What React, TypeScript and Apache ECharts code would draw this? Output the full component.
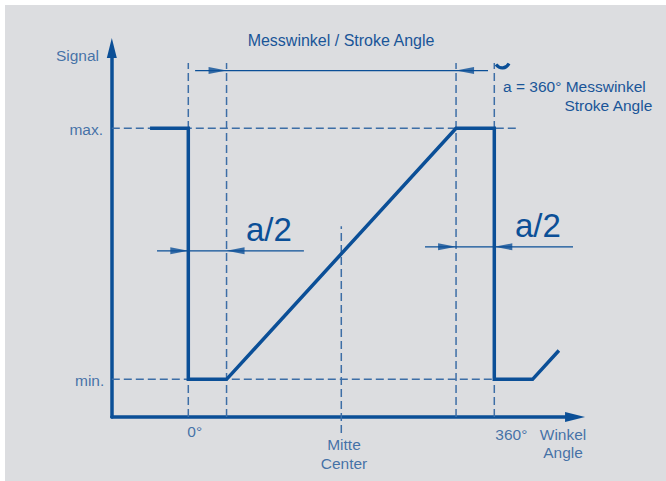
import React, { useEffect, useRef } from 'react';
import * as echarts from 'echarts';

// ---- data (angles in degrees, signal in % of range) ----
const signalAngles = [-45, 0, 0, 45, 315, 360, 360, 405, 436];
const signalLevels = [100, 100, 0, 0, 100, 100, 0, 0, 11.5];

const levelValues = [100, 0];
const levelLabels = ['max.', 'min.'];
const levelGuideEnds = [390, 360];

const angleGuideValues = [0, 45, 315, 360];
const angleTickValues = [0, 360];
const angleTickLabels = ['0°', '360°'];
const centerAngle = 180;
const centerLabel = 'Mitte\nCenter';

const strokeSpan = [45, 315];
const halfLeft = [0, 45];
const halfRight = [315, 360];

const X_MIN = -90;
const X_MAX = 455;
const Y_MIN = -15;
const Y_MAX = 132;

const MAIN = '#0b4f97';
const GUIDE = '#3d6ea6';
const TEXT = '#1a5598';
const BG = '#dcdde0';
const FONT = '"Liberation Sans", Arial, sans-serif';

export default function App() {
  const ref = useRef<HTMLDivElement>(null);
  useEffect(() => {
    if (!ref.current) return;
    const chart = echarts.init(ref.current, null, { renderer: 'svg' });

    const dashed = (data: number[][], clip = true) => ({
      type: 'line',
      data,
      symbol: 'none',
      silent: true,
      clip,
      z: 1,
      lineStyle: { color: GUIDE, width: 1.5, type: [8, 4] },
    });
    const dim = (data: number[][]) => ({
      type: 'line',
      data,
      symbol: 'none',
      silent: true,
      clip: false,
      z: 3,
      lineStyle: { color: MAIN, width: 1.2 },
    });

    const series: any[] = [];
    levelValues.forEach((v, i) => series.push(dashed([[X_MIN, v], [levelGuideEnds[i], v]])));
    angleGuideValues.forEach((a) => series.push(dashed([[a, Y_MIN], [a, 126]])));
    series.push(dashed([[centerAngle, -21.4], [centerAngle, 61]], false));

    // dimension lines
    series.push(dim([[8, 123], [352.6, 123]]));
    series.push(dim([[-36.8, 51.2], [136, 51.2]]));
    series.push(dim([[278.5, 52.8], [452.6, 52.8]]));

    // arrow heads
    series.push({
      type: 'scatter',
      silent: true,
      clip: false,
      z: 4,
      symbol: 'path://M0,0L18,3.5L0,7Z',
      symbolSize: [18, 7],
      symbolOffset: [-9, 0],
      itemStyle: { color: MAIN },
      data: [[strokeSpan[0], 123], [halfLeft[0], 51.2], [halfRight[0], 52.8]],
    });
    series.push({
      type: 'scatter',
      silent: true,
      clip: false,
      z: 4,
      symbol: 'path://M18,0L0,3.5L18,7Z',
      symbolSize: [18, 7],
      symbolOffset: [9, 0],
      itemStyle: { color: MAIN },
      data: [[strokeSpan[1], 123], [halfLeft[1], 51.2], [halfRight[1], 52.8]],
    });

    // signal
    series.push({
      type: 'line',
      data: signalAngles.map((a, i) => [a, signalLevels[i]]),
      symbol: 'none',
      silent: true,
      z: 5,
      lineStyle: { color: MAIN, width: 3.5, cap: 'butt', join: 'miter' },
    });

    // labels
    const lbl = (value: number[], text: string, align: string, pos: number[], extra: any = {}) => ({
      value,
      label: {
        show: true,
        formatter: text,
        align,
        verticalAlign: 'middle',
        position: pos,
        color: TEXT,
        fontSize: 15.5,
        fontFamily: FONT,
        lineHeight: 19,
        ...extra,
      },
    });
    const labelData = [
      lbl([X_MIN, levelValues[0]], levelLabels[0], 'right', [-7.8, 1.7]),
      lbl([X_MIN, levelValues[1]], levelLabels[1], 'right', [-6.5, 2.5]),
      lbl([angleTickValues[0], Y_MIN], angleTickLabels[0], 'left', [0, 15.5]),
      lbl([angleTickValues[1], Y_MIN], angleTickLabels[1], 'left', [2, 19]),
      lbl([centerAngle, Y_MIN], centerLabel, 'center', [3.7, 38]),
      lbl([X_MAX, Y_MIN], 'Winkel\nAngle', 'center', [-11, 28], { lineHeight: 18 }),
      lbl([X_MIN, Y_MAX], 'Signal', 'right', [-11.8, 8.3]),
    ];
    series.push({
      type: 'scatter',
      silent: true,
      clip: false,
      z: 6,
      symbolSize: 2,
      itemStyle: { color: 'rgba(0,0,0,0)' },
      data: labelData,
    });

    chart.setOption({
      animation: false,
      backgroundColor: 'transparent',
      grid: { left: 111.8, top: 48, width: 463.25, height: 368.97, containLabel: false },
      xAxis: {
        type: 'value',
        min: X_MIN,
        max: X_MAX,
        axisLine: {
          show: true,
          onZero: false,
          symbol: ['none', 'triangle'],
          symbolSize: [10, 20],
          lineStyle: { color: MAIN, width: 3.5 },
        },
        axisTick: { show: false },
        axisLabel: { show: false },
        splitLine: { show: false },
      },
      yAxis: {
        type: 'value',
        min: Y_MIN,
        max: Y_MAX,
        axisLine: {
          show: true,
          onZero: false,
          symbol: ['none', 'triangle'],
          symbolSize: [10, 20],
          lineStyle: { color: MAIN, width: 3.5 },
        },
        axisTick: { show: false },
        axisLabel: { show: false },
        splitLine: { show: false },
      },
      graphic: [
        { type: 'rect', z: -10, silent: true, shape: { x: 5, y: 5, width: 661, height: 476 }, style: { fill: BG } },
        {
          type: 'text', silent: true,
          style: { text: 'Messwinkel / Stroke Angle', x: 341, y: 40.4, align: 'center', verticalAlign: 'middle', fill: TEXT, font: `16px ${FONT}` },
        },
        {
          type: 'text', silent: true,
          style: { text: 'a = 360° Messwinkel', x: 503, y: 86.3, align: 'left', verticalAlign: 'middle', fill: TEXT, font: `15.5px ${FONT}` },
        },
        {
          type: 'text', silent: true,
          style: { text: 'Stroke Angle', x: 652.3, y: 105.1, align: 'right', verticalAlign: 'middle', fill: TEXT, font: `15.5px ${FONT}` },
        },
        {
          type: 'text', silent: true,
          style: { text: 'a/2', x: 246, y: 229.2, align: 'left', verticalAlign: 'middle', fill: MAIN, font: `33px ${FONT}` },
        },
        {
          type: 'text', silent: true,
          style: { text: 'a/2', x: 515, y: 225.2, align: 'left', verticalAlign: 'middle', fill: MAIN, font: `33px ${FONT}` },
        },
        {
          type: 'bezierCurve', silent: true,
          shape: { x1: 496, y1: 64.5, cpx1: 500, cpy1: 69.5, cpx2: 506, cpy2: 69, x2: 509, y2: 63.5 },
          style: { stroke: MAIN, lineWidth: 3.2, fill: 'none' },
        },
      ],
      series,
    });
    return () => chart.dispose();
  }, []);
  return (
    <div
      ref={ref}
      style={{ position: 'fixed', left: 0, top: 0, width: 666, height: 481, background: '#ffffff' }}
    />
  );
}
